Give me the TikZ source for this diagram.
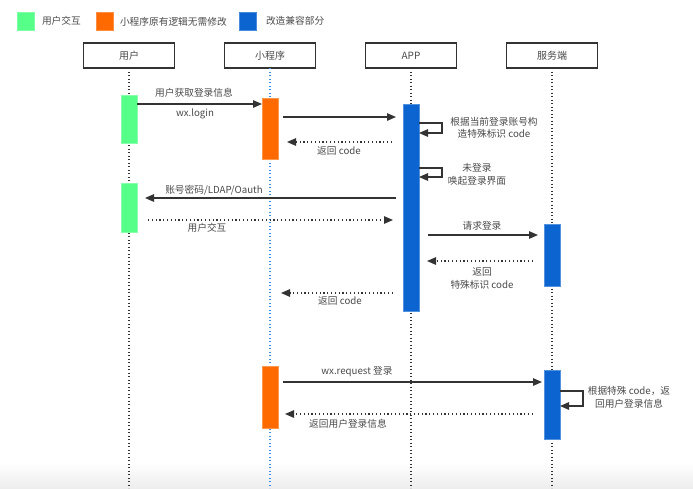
\documentclass[tikz,border=0pt]{standalone}
\usepackage{fontspec}
\setmainfont{Noto Sans CJK SC}
\usetikzlibrary{positioning,arrows.meta,calc}

\definecolor{uigreen}{HTML}{55FF88}
\definecolor{mporange}{HTML}{FF6A00}
\definecolor{appblue}{HTML}{0B64D0}
\definecolor{lineblue}{HTML}{3A8EE6}
\definecolor{txtgray}{HTML}{4A4A4A}
\definecolor{arrowgray}{HTML}{333333}

\begin{document}
\begin{tikzpicture}[
    x=1pt, y=-1pt,
    outer sep=0pt,
    % legend squares
    legend/.style={
        minimum width=17pt,
        minimum height=18pt,
        inner sep=0pt,
        draw=#1!75!white,
        fill=#1
    },
    % header boxes
    head/.style={
        draw=arrowgray,
        line width=1.2pt,
        minimum width=91pt,
        minimum height=25pt,
        font=\fontsize{10}{11}\selectfont,
        text=txtgray
    },
    % activation bars
    bar/.style={
        minimum width=16pt,
        inner sep=0pt,
        draw=#1!70!white,
        line width=0.6pt,
        fill=#1
    },
    % lifelines
    life/.style={
        line width=1.2pt,
        dash pattern=on 1.2pt off 2.3pt
    },
    % messages
    msg/.style={
        draw=arrowgray,
        line width=1.3pt,
        -{Triangle[length=9pt,width=7.5pt]}
    },
    ret/.style={
        msg,
        dash pattern=on 1.2pt off 2.6pt
    },
    % labels
    lbl/.style={
        font=\fontsize{9.7}{12.5}\selectfont,
        text=txtgray,
        inner sep=1pt,
        align=center
    }
]
    \useasboundingbox (0,0) rectangle (693,488);
    \shade[top color=white, bottom color=black!7] (0,462) rectangle (693,488);

    % --- LEGEND ---
    \node[legend=uigreen] (lg1) at (25.5,21) {};
    \node[lbl, anchor=west, right=7pt of lg1] (lt1) {用户交互};
    \node[legend=mporange] (lg2) at (104.5,21.5) {};
    \node[lbl, anchor=west, right=6pt of lg2] (lt2) {小程序原有逻辑无需修改};
    \node[legend=appblue] (lg3) at (247.5,21) {};
    \node[lbl, anchor=west, right=9pt of lg3] (lt3) {改造兼容部分};

    % --- HEADERS + LIFELINES ---
    \node[head] (uh) at (129,55.5) {用户};
    \node[head] (ph) at (270,55.5) {小程序};
    \node[head] (ah) at (411,55.5) {APP};
    \node[head] (sh) at (552,55.5) {服务端};
    \coordinate (bottom) at (0,488);
    \foreach \h/\c in {uh/arrowgray, ph/lineblue, ah/arrowgray, sh/arrowgray}
        \draw[life, \c] (\h.south) -- (\h.south |- bottom);

    % --- ACTIVATION BARS ---
    \node[bar=uigreen, minimum height=48pt] (u1) at (129,119) {};
    \node[bar=uigreen, minimum height=49pt] (u2) at (129,207.5) {};
    \node[bar=mporange, minimum height=61pt] (p1) at (270,128.5) {};
    \node[bar=mporange, minimum height=62pt] (p2) at (270,397) {};
    \node[bar=appblue, minimum height=207pt] (a1) at (411,207.5) {};
    \node[bar=appblue, minimum height=62pt] (s1) at (552,255) {};
    \node[bar=appblue, minimum height=69pt] (s2) at (552,404.5) {};

    % --- MESSAGE ROWS ---
    \coordinate (y1) at (0,104);
    \coordinate (y2) at (0,117);
    \coordinate (y3) at (0,142);
    \coordinate (y4) at (0,198);
    \coordinate (y5) at (0,220);
    \coordinate (y6) at (0,235);
    \coordinate (y7) at (0,261);
    \coordinate (y8) at (0,293);
    \coordinate (y9) at (0,382);
    \coordinate (y10) at (0,414);

    % login from the mini program
    \draw[msg] (u1.east |- y1) -- (p1.west |- y1);
    \node[lbl] (l1) at (194,93) {用户获取登录信息};
    \node[lbl] (l2) at (195,114) {wx.login};
    \draw[msg] ([xshift=5pt]p1.east |- y2) -- ([xshift=-7pt]a1.west |- y2);
    \draw[ret] ([xshift=-11pt]a1.west |- y3) -- ([xshift=9pt]p1.east |- y3);
    \node[lbl] (l3) at (339,151) {返回 code};

    % self calls of the app
    \draw[msg] (a1.east |- 0,123) -| ++(23,0) |- (a1.east |- 0,133);
    \node[lbl] (l4) at (494,128) {根据当前登录账号构\\造特殊标识 code};
    \draw[msg] (a1.east |- 0,168) -| ++(23,0) |- (a1.east |- 0,177);
    \node[lbl] (l5) at (477,174.5) {未登录\\唤起登录界面};

    % user login in the app
    \draw[msg] ([xshift=-7pt]a1.west |- y4) -- ([xshift=8pt]u2.east |- y4);
    \node[lbl] (l6) at (214,190) {账号密码/LDAP/Oauth};
    \draw[ret] ([xshift=11pt]u2.east |- y5) -- ([xshift=-10pt]a1.west |- y5);
    \node[lbl] (l7) at (207,228) {用户交互};

    % app asks the server
    \draw[msg] ([xshift=9pt]a1.east |- y6) -- ([xshift=-6pt]s1.west |- y6);
    \node[lbl] (l8) at (482,226) {请求登录};
    \draw[ret] ([xshift=-11pt]s1.west |- y7) -- ([xshift=8pt]a1.east |- y7);
    \node[lbl] (l9) at (482,278.5) {返回\\特殊标识 code};
    \draw[ret] ([xshift=-10pt]a1.west |- y8) -- ([xshift=3pt]p1.east |- y8);
    \node[lbl] (l10) at (340,301) {返回 code};

    % mini program logs in with the code
    \draw[msg] ([xshift=5pt]p2.east |- y9) -- ([xshift=-2pt]s2.west |- y9);
    \node[lbl] (l11) at (357,372) {wx.request 登录};
    \draw[msg] (s2.east |- 0,391) -| ++(23,0) |- (s2.east |- 0,406);
    \node[lbl] (l12) at (629,397.5) {根据特殊 code，返\\回用户登录信息};
    \draw[ret] ([xshift=-11pt]s2.west |- y10) -- ([xshift=7pt]p2.east |- y10);
    \node[lbl] (l13) at (348,424) {返回用户登录信息};

\end{tikzpicture}
\end{document}
